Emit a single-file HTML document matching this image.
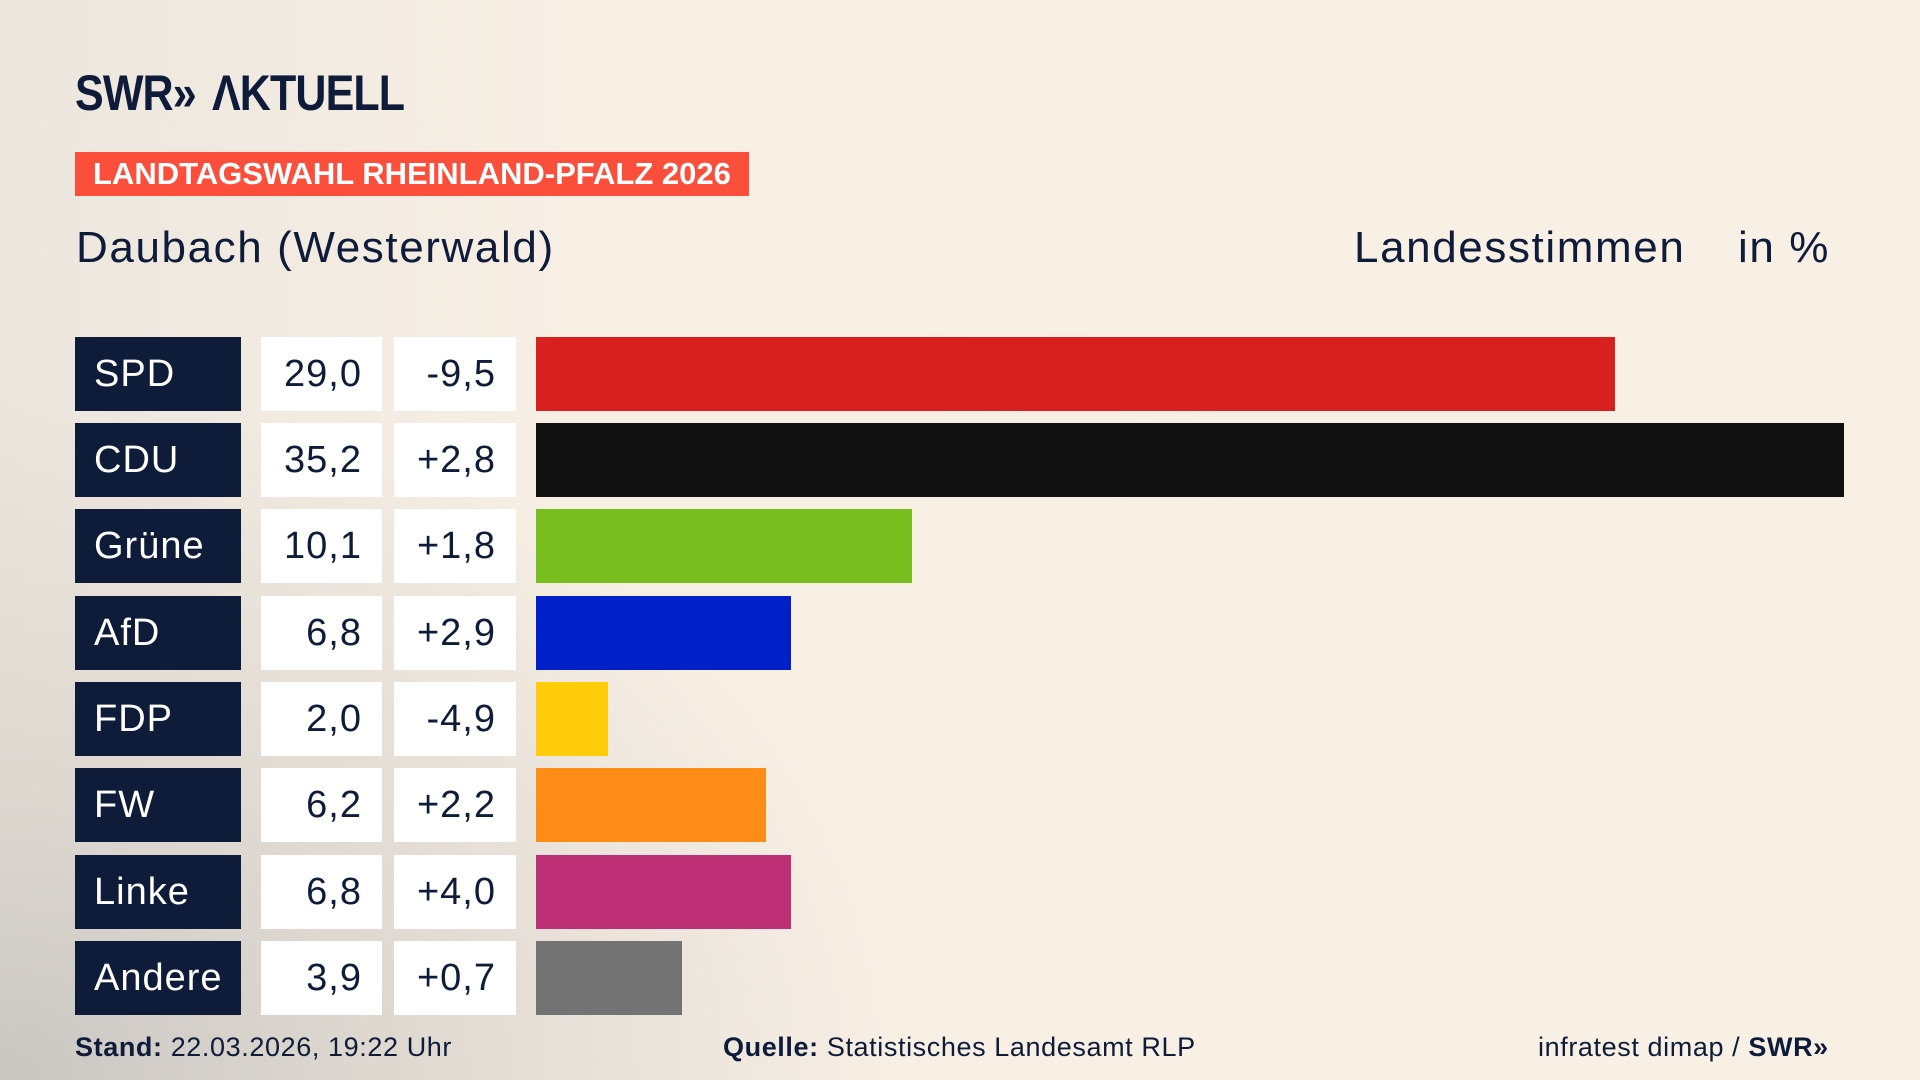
<!DOCTYPE html>
<html><head><meta charset="utf-8"><style>
*{margin:0;padding:0;box-sizing:border-box}
body{width:1920px;height:1080px;overflow:hidden;position:relative;font-family:"Liberation Sans","DejaVu Sans",sans-serif;color:#0e1c3a;
background:radial-gradient(ellipse 900px 700px at 0px 1080px,#c9c6c2 0%,#ddd7d0 40%,rgba(248,240,230,0) 100%),linear-gradient(90deg,#ece6de 0%,#f7efe4 30%,#f9f0e5 100%);}
.a{position:absolute}
.logo{left:75px;top:68px;font-size:50px;font-weight:bold;letter-spacing:-1px;line-height:50px;transform:scaleX(0.86);transform-origin:left top}
.ban{left:75px;top:152px;width:674px;height:44px;background:#fb4f3c;color:#fff;font-weight:bold;font-size:31px;line-height:44px;padding-left:18px}
.sub{top:222px;font-size:44px;line-height:52px;letter-spacing:1.6px}
.row{height:74px;line-height:74px;font-size:38px;letter-spacing:1px}
.p{left:75px;width:166px;background:#0e1c3a;color:#fff;padding-left:19px}
.v{left:261px;width:121px;background:#fff;text-align:right;padding-right:20px}
.c{left:394px;width:122px;background:#fff;text-align:right;padding-right:20px}
.b{left:536px}
.f{top:1030px;font-size:27px;line-height:34px;letter-spacing:0.6px}
</style></head><body>
<div class="a logo">SWR<span style="letter-spacing:-8px">»</span>&nbsp; ΛKTUELL</div>
<div class="a ban">LANDTAGSWAHL RHEINLAND-PFALZ 2026</div>
<div class="a sub" style="left:76px">Daubach (Westerwald)</div>
<div class="a sub" style="left:1354px">Landesstimmen</div>
<div class="a sub" style="left:1738px">in %</div>

<div class="a row p" style="top:337px">SPD</div><div class="a row v" style="top:337px">29,0</div><div class="a row c" style="top:337px">-9,5</div><div class="a row b" style="top:337px;width:1079px;background:#d82020"></div>
<div class="a row p" style="top:423px">CDU</div><div class="a row v" style="top:423px">35,2</div><div class="a row c" style="top:423px">+2,8</div><div class="a row b" style="top:423px;width:1308px;background:#111"></div>
<div class="a row p" style="top:509px">Grüne</div><div class="a row v" style="top:509px">10,1</div><div class="a row c" style="top:509px">+1,8</div><div class="a row b" style="top:509px;width:376px;background:#78bd1e"></div>
<div class="a row p" style="top:596px">AfD</div><div class="a row v" style="top:596px">6,8</div><div class="a row c" style="top:596px">+2,9</div><div class="a row b" style="top:596px;width:255px;background:#0021c8"></div>
<div class="a row p" style="top:682px">FDP</div><div class="a row v" style="top:682px">2,0</div><div class="a row c" style="top:682px">-4,9</div><div class="a row b" style="top:682px;width:72px;background:#ffcc0a"></div>
<div class="a row p" style="top:768px">FW</div><div class="a row v" style="top:768px">6,2</div><div class="a row c" style="top:768px">+2,2</div><div class="a row b" style="top:768px;width:230px;background:#ff8c17"></div>
<div class="a row p" style="top:855px">Linke</div><div class="a row v" style="top:855px">6,8</div><div class="a row c" style="top:855px">+4,0</div><div class="a row b" style="top:855px;width:255px;background:#bd3075"></div>
<div class="a row p" style="top:941px">Andere</div><div class="a row v" style="top:941px">3,9</div><div class="a row c" style="top:941px">+0,7</div><div class="a row b" style="top:941px;width:146px;background:#737373"></div>

<div class="a f" style="left:75px"><b>Stand:</b> 22.03.2026, 19:22 Uhr</div>
<div class="a f" style="left:723px"><b>Quelle:</b> Statistisches Landesamt RLP</div>
<div class="a f" style="left:1538px">infratest dimap / <b>SWR»</b></div>
</body></html>
